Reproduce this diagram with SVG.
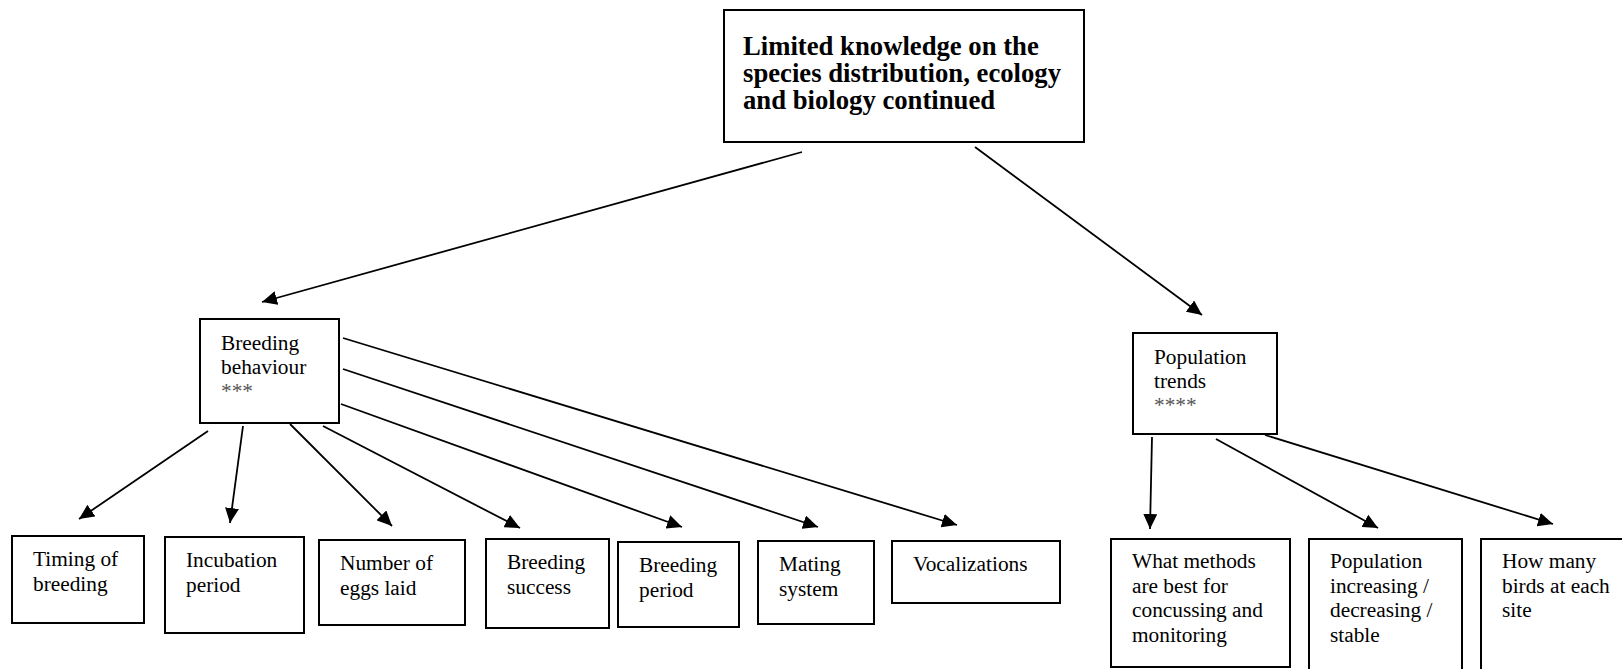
<svg xmlns="http://www.w3.org/2000/svg" width="1622" height="669" viewBox="0 0 1622 669">
<style>
.box{fill:#fff;stroke:#000;stroke-width:2}
.t{font-family:"Liberation Serif","Times New Roman",serif;font-size:21.33px;fill:#000}
.b{font-family:"Liberation Serif","Times New Roman",serif;font-size:26.7px;font-weight:bold;fill:#000}
.ast{fill:#555}
.c line{stroke:#000;stroke-width:1.8;marker-end:url(#ah)}
</style>
<defs>
<marker id="ah" markerUnits="userSpaceOnUse" markerWidth="15" markerHeight="14" refX="15" refY="7" orient="auto" viewBox="0 0 15 14">
<path d="M0,0 L15,7 L0,14 z" fill="#000"/>
</marker>
</defs>
<rect width="1622" height="669" fill="#fff"/>
<g id="connectors" class="c">
<line x1="802" y1="152" x2="262" y2="302"/>
<line x1="975" y1="147" x2="1202" y2="315"/>
<line x1="208" y1="431" x2="79" y2="519"/>
<line x1="243" y1="426" x2="230" y2="523"/>
<line x1="290" y1="424" x2="392" y2="526"/>
<line x1="323" y1="426" x2="520" y2="528"/>
<line x1="341" y1="404" x2="682" y2="527"/>
<line x1="343" y1="369" x2="818" y2="527"/>
<line x1="343" y1="338" x2="957" y2="525"/>
<line x1="1152" y1="437" x2="1150" y2="529"/>
<line x1="1216" y1="439" x2="1378" y2="528"/>
<line x1="1265" y1="435" x2="1553" y2="524"/>
</g>
<g id="root">
<rect class="box" x="724" y="10" width="360" height="132"/>
<text class="b" x="743" y="55">Limited knowledge on the</text>
<text class="b" x="743" y="82">species distribution, ecology</text>
<text class="b" x="743" y="109">and biology continued</text>
</g>
<g id="breeding-behaviour">
<rect class="box" x="200" y="319" width="139" height="104"/>
<text class="t" x="221" y="350">Breeding</text>
<text class="t" x="221" y="374">behaviour</text>
<text class="t ast" x="221" y="398">***</text>
</g>
<g id="population-trends">
<rect class="box" x="1133" y="333" width="144" height="101"/>
<text class="t" x="1154" y="364">Population</text>
<text class="t" x="1154" y="388">trends</text>
<text class="t ast" x="1154" y="412">****</text>
</g>
<g id="timing">
<rect class="box" x="12" y="536" width="132" height="87"/>
<text class="t" x="33" y="566">Timing of</text>
<text class="t" x="33" y="591">breeding</text>
</g>
<g id="incubation">
<rect class="box" x="165" y="537" width="139" height="96"/>
<text class="t" x="186" y="567">Incubation</text>
<text class="t" x="186" y="592">period</text>
</g>
<g id="eggs">
<rect class="box" x="319" y="540" width="146" height="85"/>
<text class="t" x="340" y="570">Number of</text>
<text class="t" x="340" y="595">eggs laid</text>
</g>
<g id="success">
<rect class="box" x="486" y="539" width="123" height="89"/>
<text class="t" x="507" y="569">Breeding</text>
<text class="t" x="507" y="594">success</text>
</g>
<g id="period">
<rect class="box" x="618" y="542" width="121" height="85"/>
<text class="t" x="639" y="572">Breeding</text>
<text class="t" x="639" y="597">period</text>
</g>
<g id="mating">
<rect class="box" x="758" y="541" width="116" height="83"/>
<text class="t" x="779" y="571">Mating</text>
<text class="t" x="779" y="596">system</text>
</g>
<g id="vocalizations">
<rect class="box" x="892" y="541" width="168" height="62"/>
<text class="t" x="913" y="571">Vocalizations</text>
</g>
<g id="methods">
<rect class="box" x="1111" y="539" width="179" height="128"/>
<text class="t" x="1132" y="568">What methods</text>
<text class="t" x="1132" y="593">are best for</text>
<text class="t" x="1132" y="617">concussing and</text>
<text class="t" x="1132" y="642">monitoring</text>
</g>
<g id="increasing">
<rect class="box" x="1309" y="539" width="153" height="160"/>
<text class="t" x="1330" y="568">Population</text>
<text class="t" x="1330" y="593">increasing /</text>
<text class="t" x="1330" y="617">decreasing /</text>
<text class="t" x="1330" y="642">stable</text>
</g>
<g id="how-many">
<rect class="box" x="1481" y="539" width="180" height="160"/>
<text class="t" x="1502" y="568">How many</text>
<text class="t" x="1502" y="593">birds at each</text>
<text class="t" x="1502" y="617">site</text>
</g>
</svg>
